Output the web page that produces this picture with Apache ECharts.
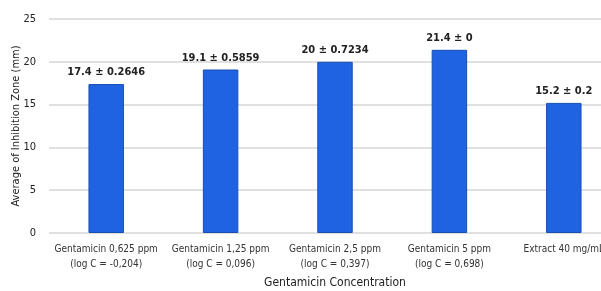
<!DOCTYPE html>
<html><head><meta charset="utf-8">
<script src="https://cdn.jsdelivr.net/npm/echarts@6/dist/echarts.min.js"></script>
<style>html,body{margin:0;padding:0;background:#fff}#c{width:601px;height:291px}</style>
</head><body><div id="c"></div>
<script>
const categories = ['Gentamicin 0,625 ppm\n(log C = -0,204)', 'Gentamicin 1,25 ppm\n(log C = 0,096)', 'Gentamicin 2,5 ppm\n(log C = 0,397)', 'Gentamicin 5 ppm\n(log C = 0,698)', 'Extract 40 mg/mL'];
const means = [17.4, 19.1, 20, 21.4, 15.2];
const sds = ['0.2646', '0.5859', '0.7234', '0', '0.2'];
const meanLabels = ['17.4', '19.1', '20', '21.4', '15.2'];
const yTicks = [0, 5, 10, 15, 20, 25];

const font = '"Liberation Sans Narrow", "DejaVu Sans Condensed", "Open Sans", sans-serif';
const chart = echarts.init(document.getElementById('c'));
chart.setOption({
  animation: false,
  textStyle: { fontFamily: font },
  grid: { left: 49, right: -20, top: 19, bottom: 58, containLabel: false, outerBoundsMode: 'none' },
  xAxis: {
    type: 'category', data: categories,
    name: 'Gentamicin Concentration', nameLocation: 'middle', nameGap: 44,
    nameTextStyle: { fontSize: 12, color: '#222', fontFamily: font },
    axisLine: { show: false }, axisTick: { show: false },
    axisLabel: { fontSize: 10, color: '#333', lineHeight: 15, margin: 9, interval: 0, fontFamily: font }
  },
  yAxis: {
    type: 'value', min: yTicks[0], max: yTicks[yTicks.length - 1], interval: 5,
    name: 'Average of Inhibition Zone (mm)', nameLocation: 'middle', nameGap: 27, nameMoveOverlap: false,
    nameTextStyle: { fontSize: 11, color: '#222', fontFamily: font },
    axisLine: { show: false }, axisTick: { show: false },
    axisLabel: { fontSize: 11, color: '#222', margin: 13, fontFamily: font },
    splitLine: { lineStyle: { color: '#d6d6d6', width: 1.5 } }
  },
  series: [{
    type: 'bar', data: means, barWidth: '31%',
    itemStyle: { color: '#1f63e3', borderColor: '#1a4db0', borderWidth: 1 },
    label: {
      show: true, position: 'top', distance: 6, fontSize: 11, fontWeight: 'bold', color: '#222', fontFamily: font,
      formatter: p => meanLabels[p.dataIndex] + ' \u00b1 ' + sds[p.dataIndex]
    }
  }]
});
</script></body></html>
